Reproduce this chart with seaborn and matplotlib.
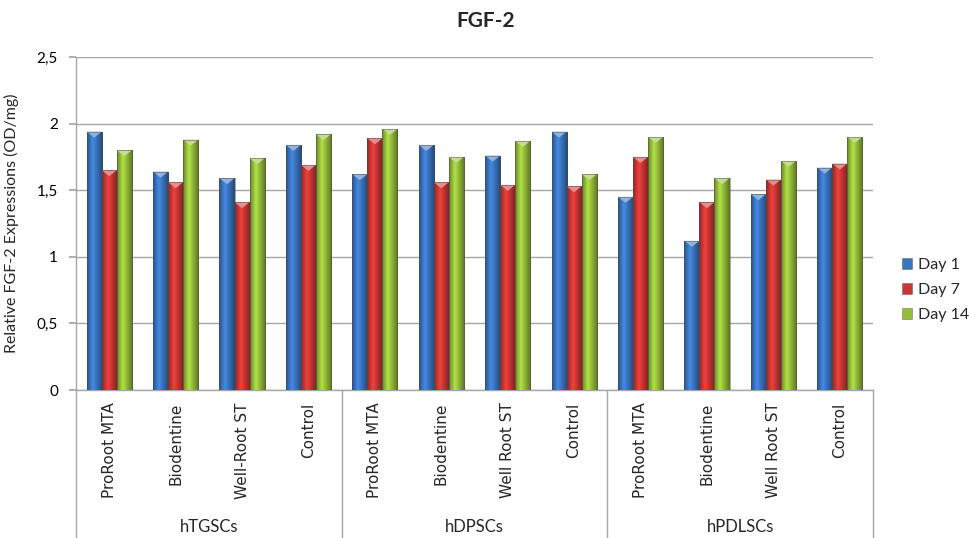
import numpy as np
import pandas as pd
import matplotlib
matplotlib.use("Agg")
import matplotlib.pyplot as plt
import seaborn as sns
from matplotlib.patches import Patch
import matplotlib.transforms as mtransforms

# ---------------- data ----------------
cell_types = ["hTGSCs", "hDPSCs", "hPDLSCs"]
materials_by_cell = [
    ["ProRoot MTA", "Biodentine", "Well-Root ST", "Control"],
    ["ProRoot MTA", "Biodentine", "Well Root ST", "Control"],
    ["ProRoot MTA", "Biodentine", "Well Root ST", "Control"],
]
days = ["Day 1", "Day 7", "Day 14"]
day1 = [1.94, 1.64, 1.59, 1.84, 1.62, 1.84, 1.76, 1.94, 1.45, 1.12, 1.47, 1.67]
day7 = [1.65, 1.56, 1.41, 1.69, 1.89, 1.56, 1.54, 1.53, 1.75, 1.41, 1.58, 1.70]
day14 = [1.80, 1.88, 1.74, 1.92, 1.96, 1.75, 1.87, 1.62, 1.90, 1.59, 1.72, 1.90]
y_ticks = [0, 0.5, 1, 1.5, 2, 2.5]
y_tick_labels = ["0", "0,5", "1", "1,5", "2", "2,5"]

title = "FGF-2"
y_label = "Relative FGF-2 Expressions (OD/mg)"
colors = ["#3a74bf", "#c93634", "#95bd3a"]

# ---------------- table ----------------
keys, mat_labels = [], []
for c, mats in zip(cell_types, materials_by_cell):
    for m in mats:
        keys.append(f"{c}|{m}")
        mat_labels.append(m)
rows = []
for d, vals in zip(days, [day1, day7, day14]):
    for k, v in zip(keys, vals):
        rows.append({"key": k, "day": d, "value": v})
df = pd.DataFrame(rows)

# ---------------- figure ----------------
sns.set_theme(style="white")
plt.rcParams["font.family"] = ["Lato", "DejaVu Sans"]

W, H = 970, 538
fig = plt.figure(figsize=(W / 100, H / 100), dpi=100)
L, R, T, B = 76, 873, 57, 390
ax = fig.add_axes([L / W, 1 - B / H, (R - L) / W, (B - T) / H])

sns.barplot(data=df, x="key", y="value", hue="day", order=keys, hue_order=days,
            palette=colors, width=0.68, ax=ax, legend=False, saturation=1,
            edgecolor="none", linewidth=0, errorbar=None)

ax.set_xlim(-0.5, len(keys) - 0.5)
ax.set_ylim(0, 2.5)

# gradient shading + bevelled top to mimic the Excel bars
px_per_unit = (B - T) / 2.5
bevel = 6 / px_per_unit
bars = list(ax.patches)
prof = np.concatenate([np.linspace(0.72, 1.18, 12), np.linspace(1.18, 0.62, 20)])
for p in bars:
    base = np.array(p.get_facecolor()[:3])
    grad = np.clip(base[None, :] * prof[:, None], 0, 1)[None, :, :]
    x0, y0 = p.get_x(), p.get_y()
    w, h = p.get_width(), p.get_height()
    im = ax.imshow(grad, extent=[x0, x0 + w, y0, y0 + h], aspect="auto",
                   interpolation="bilinear", zorder=3)
    im.set_clip_path(p)
    p.set_zorder(2)
    top = y0 + h
    light = np.clip(base + (1 - base) * 0.45, 0, 1)
    ax.fill([x0, x0 + w, x0 + w * 0.5], [top, top, top - bevel],
            color=light, zorder=4, lw=0)
    ax.add_patch(plt.Rectangle((x0, y0), w, h, fill=False,
                               edgecolor=(0.3, 0.3, 0.3, 0.55), lw=0.6, zorder=5))
ax.set_xlim(-0.5, len(keys) - 0.5)
ax.set_ylim(0, 2.5)

# grid & spines
ax.set_yticks(y_ticks)
ax.set_yticklabels(y_tick_labels, fontsize=11, color="#000000")
ax.yaxis.grid(True, color="#a6a6a6", lw=1)
ax.set_axisbelow(True)
for s in ["top", "right"]:
    ax.spines[s].set_visible(False)
for s in ["left", "bottom"]:
    ax.spines[s].set_color("#a6a6a6")
    ax.spines[s].set_linewidth(1)
ax.tick_params(axis="y", which="both", left=True, length=5, color="#a6a6a6", pad=8)
ax.tick_params(axis="x", bottom=False, length=0, pad=9)

ax.set_xticks(range(len(keys)))
ax.set_xticklabels(mat_labels, rotation=90, fontsize=11, family="DejaVu Sans")
ax.set_xlabel("")
ax.set_ylabel(y_label, fontsize=11.5)
ax.yaxis.set_label_coords(-(L - 19) / (R - L), 0.5)

# group separators and labels
trans = mtransforms.blended_transform_factory(ax.transData, ax.transAxes)
bottom_frac = -(H - B) / (B - T)
n_per = 4
for i in range(len(cell_types) + 1):
    xb = i * n_per - 0.5
    ax.plot([xb, xb], [0, bottom_frac - 0.05], transform=trans, color="#a6a6a6",
            lw=1, clip_on=False)
for i, c in enumerate(cell_types):
    ax.text(i * n_per + 1.5, -(527 - B) / (B - T), c, transform=trans,
            ha="center", va="center", fontsize=12)

# title
fig.text(486 / W, 1 - 21 / H, title, ha="center", va="center", fontsize=15,
         fontweight="bold")

# legend
handles = [Patch(facecolor=c, edgecolor=(0.3, 0.3, 0.3, 0.55), lw=0.5) for c in colors]
fig.legend(handles, days, loc="center left", bbox_to_anchor=(902 / W, 1 - 290 / H),
           frameon=False, fontsize=11.5, handlelength=0.65, handleheight=0.65,
           handletextpad=0.35, labelspacing=0.7, borderpad=0, borderaxespad=0)

fig.savefig("out.png", dpi=100)
